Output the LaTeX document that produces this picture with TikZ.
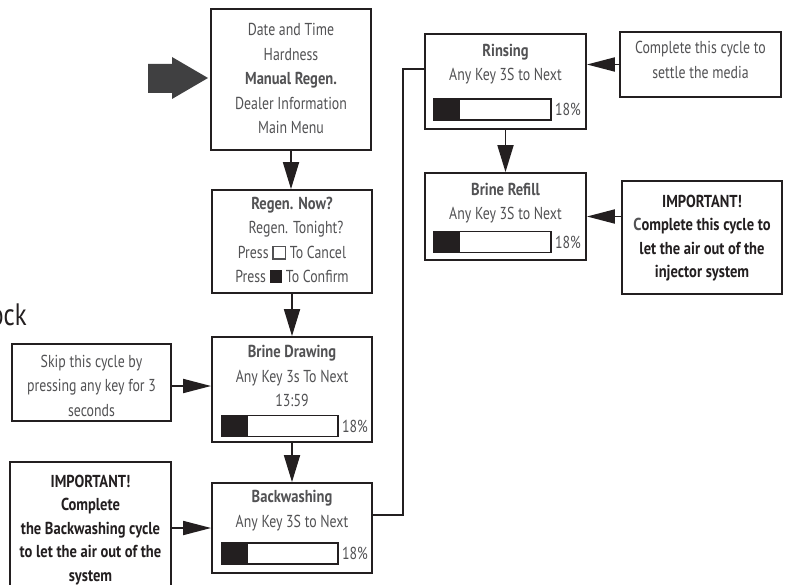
\documentclass[tikz,border=0pt]{standalone}
\usepackage{fontspec}
\setmainfont{PT Sans}[FakeStretch=0.8, BoldFeatures={FakeStretch=0.84}]
\usetikzlibrary{arrows.meta}

\definecolor{ink}{RGB}{35,31,32}
\definecolor{label}{RGB}{82,82,84}
\definecolor{pointer}{RGB}{64,64,65}

% hollow and filled key symbols used in the confirmation screen
\newcommand\keyopen{\raisebox{0pt}{\fboxsep=0pt\fboxrule=1.2pt\fbox{\rule{0pt}{11.5pt}\hspace{11.5pt}}}}
\newcommand\keyfull{{\color{ink}\rule{12.5pt}{12.5pt}}}

\tikzset{
  panel/.style={draw=ink, line width=1.8pt, fill=white, inner sep=0pt},
  txt/.style={text=label, font=\fontsize{17.3}{24.5}\selectfont, align=center, inner sep=0pt},
  alert/.style={text=ink, font=\fontsize{17.3}{23.5}\selectfont\bfseries, align=center, inner sep=0pt},
  flowdown/.style={draw=ink, line width=1.8pt, -{Triangle[length=27pt,width=16pt]}},
  flowside/.style={draw=ink, line width=1.8pt, -{Triangle[length=28pt,width=14pt]}},
  link/.style={draw=ink, line width=1.8pt},
  progress/.style={draw=ink, line width=1.6pt, inner sep=0pt,
    minimum width=116pt, minimum height=21pt,
    path picture={\fill[ink] (path picture bounding box.north west)
      rectangle ([xshift=26pt]path picture bounding box.south west);}},
  pct/.style={txt, anchor=west}
}

\begin{document}
\begin{tikzpicture}[x=1pt, y=-1pt]
\useasboundingbox (0,0) rectangle (791,585);

% heading fragment at the left margin
\node[anchor=base east, text=ink, font=\fontsize{31}{32}\selectfont, inner sep=0pt] (heading) at (27,325) {ock};

% pointer into the menu
\fill[pointer] (148,64) -- (172,64) -- (172,57) -- (208,78) -- (172,99) -- (172,93) -- (148,93) -- cycle;

% main menu
\node[panel, minimum width=160pt, minimum height=141pt] (menu) at (291,79.5) {};
\node[txt] (menutext) at (291,78.5) {Date and Time\\Hardness\\\textbf{Manual Regen.}\\Dealer Information\\Main Menu};

% confirmation screen
\node[panel, minimum width=160pt, minimum height=103pt] (regen) at (292,241.5) {};
\node[txt] (regentext) at (292,240) {\textbf{Regen. Now?}\\\hspace{8pt}Regen. Tonight?\\Press \keyopen{} To Cancel\\Press \keyfull{} To Confirm};

% brine drawing
\node[panel, minimum width=160pt, minimum height=105pt] (brine) at (292,389.5) {};
\node[txt] (brinetext) at (292,376) {\textbf{Brine Drawing}\\Any Key 3s To Next\\13:59};
\node[progress] (brinebar) at (280,426) {};
\node[pct] (brinepct) at ([xshift=3pt]brinebar.east) {18\%};

% backwashing
\node[panel, minimum width=160pt, minimum height=90pt] (back) at (292,528) {};
\node[txt] (backtext) at (292,510.5) {\textbf{Backwashing}\\Any Key 3S to Next};
\node[progress] (backbar) at (280,553.5) {};
\node[pct] (backpct) at ([xshift=3pt]backbar.east) {18\%};

% rinsing
\node[panel, minimum width=161pt, minimum height=95pt] (rinse) at (505.5,81.5) {};
\node[txt] (rinsetext) at (505.5,64) {\textbf{Rinsing}\\Any Key 3S to Next};
\node[progress, minimum width=117pt] (rinsebar) at (492.5,109.5) {};
\node[pct] (rinsepct) at ([xshift=3pt]rinsebar.east) {18\%};

% brine refill
\node[panel, minimum width=161pt, minimum height=87pt] (refill) at (505.5,216.5) {};
\node[txt] (refilltext) at (505.5,203) {\textbf{Brine Refill}\\Any Key 3S to Next};
\node[progress, minimum width=117pt] (refillbar) at (492.5,242) {};
\node[pct] (refillpct) at ([xshift=3pt]refillbar.east) {18\%};

% side notes
\node[panel, minimum width=159pt, minimum height=77pt] (skip) at (91.5,382.5) {};
\node[txt] (skiptext) at (91.5,385.5) {Skip this cycle by\\pressing any key for 3\\seconds};

\node[panel, minimum width=161pt, minimum height=133pt] (warnback) at (90.5,528.5) {};
\node[alert] (warnbacktext) at (90.5,530) {IMPORTANT!\\Complete\\the Backwashing cycle\\to let the air out of the\\system};

\node[panel, minimum width=161pt, minimum height=65pt] (settle) at (700.5,64.5) {};
\node[txt] (settletext) at (700.5,60) {Complete this cycle to\\settle the media};

\node[panel, minimum width=160pt, minimum height=113pt] (warninj) at (702,237.5) {};
\node[alert] (warninjtext) at (702,238) {IMPORTANT!\\\textcolor{label}{C}omplete this cycle to\\let the air out of the\\injector system};

% flow between screens
\draw[flowdown] (menu.south) -- (menu.south |- regen.north);
\draw[flowdown] (regen.south) -- (brine.north);
\draw[flowdown] (brine.south) -- (back.north);
\coordinate (riser) at (403,300);
\draw[link] ([yshift=13pt]back.east) -| (riser) |- ([yshift=12.5pt]rinse.west);
\draw[flowdown] (rinse.south) -- (refill.north);

% notes pointing at screens
\draw[flowside] ([yshift=-3.5pt]skip.east) -- ([yshift=-3.5pt]skip.east -| brine.west);
\draw[flowside] (warnback.east |- back.west) -- (back.west);
\draw[flowside] (settle.west) -- (settle.west -| rinse.east);
\draw[flowside] (warninj.west |- refill.east) -- (refill.east);
\end{tikzpicture}
\end{document}
